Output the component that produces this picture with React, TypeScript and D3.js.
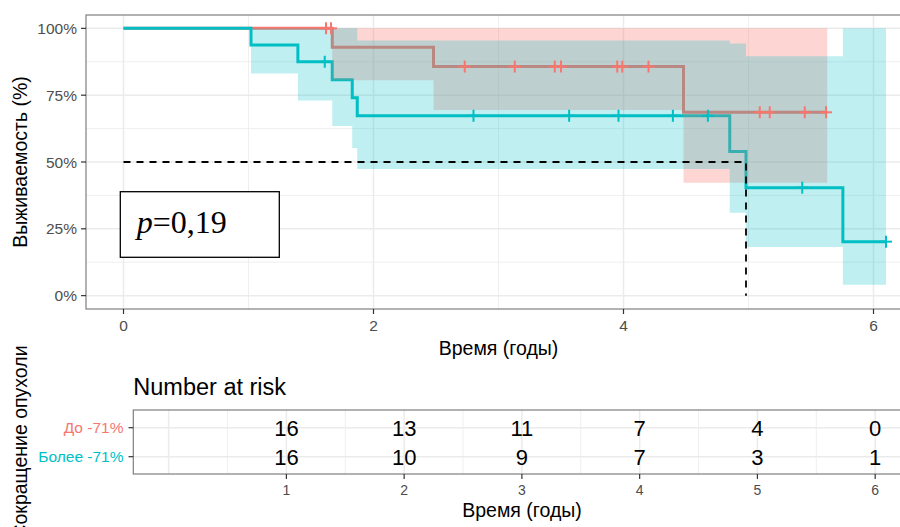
import React from "react";
import * as d3 from "d3";

// Group "До -71%" (red)
const redTime = [0, 1.67, 2.48, 4.48];
const redSurv = [1, 0.929, 0.857, 0.686];
const redUpper = [1, 1, 1, 1];
const redLower = [1, 0.806, 0.695, 0.422];
const redEnd = 5.63;
const redCensor = [1.62, 1.66, 2.73, 3.13, 3.45, 3.5, 3.95, 3.99, 4.2, 5.09, 5.17, 5.45, 5.62];

// Group "Более -71%" (teal)
const tealTime = [0, 1.02, 1.395, 1.67, 1.83, 1.87, 4.85, 4.98, 5.755];
const tealSurv = [1, 0.9375, 0.875, 0.808, 0.74, 0.673, 0.539, 0.404, 0.202];
const tealUpper = [1, 1, 1, 1, 1, 0.955, 0.943, 0.896, 1];
const tealLower = [1, 0.831, 0.73, 0.635, 0.552, 0.474, 0.31, 0.182, 0.041];
const tealEnd = 6.1;
const tealCensor = [1.61, 2.8, 3.565, 3.96, 4.395, 4.675, 5.43, 6.1];

const medianTime = 4.98;

const groups = ["До -71%", "Более -71%"];
const riskTimes = [1, 2, 3, 4, 5, 6];
const redRisk = [16, 13, 11, 7, 4, 0];
const tealRisk = [16, 10, 9, 7, 3, 1];

const xMajor = [0, 2, 4, 6];
const xMinor = [1, 3, 5];
const yMajor = [0, 0.25, 0.5, 0.75, 1];
const yMinor = [0.125, 0.375, 0.625, 0.875];

const RED = "#F8766D";
const TEAL = "#00BFC4";
const GRID = "#EBEBEB";
const BORDER = "#7F7F7F";
const TICKTXT = "#4D4D4D";
const FONT = "'Liberation Sans', Arial, sans-serif";

const W = 900;
const H = 527;

const stepAt = (times: number[], vals: number[], t: number) => {
  let v = vals[0];
  for (let i = 0; i < times.length; i++) if (times[i] <= t) v = vals[i];
  return v;
};

export default function App() {
  const x = d3.scaleLinear().domain([-0.3, 6.3]).range([86, 911]);
  const y = d3.scaleLinear().domain([-0.05, 1.05]).range([309, 15]);
  const xr = d3.scaleLinear().domain([-0.3, 6.3]).range([133.3, 910.5]);
  const yr = d3.scalePoint<string>().domain(groups).range([427.7, 456.7]);

  const line = d3
    .line<[number, number]>()
    .curve(d3.curveStepAfter)
    .x((d) => x(d[0]))
    .y((d) => y(d[1]));

  const area = d3
    .area<[number, number, number]>()
    .curve(d3.curveStepAfter)
    .x((d) => x(d[0]))
    .y0((d) => y(d[1]))
    .y1((d) => y(d[2]));

  const stepPts = (t: number[], s: number[], end: number) =>
    [...t.map((v, i) => [v, s[i]] as [number, number]), [end, s[s.length - 1]] as [number, number]];
  const bandPts = (t: number[], lo: number[], hi: number[], end: number) =>
    [
      ...t.map((v, i) => [v, lo[i], hi[i]] as [number, number, number]),
      [end, lo[lo.length - 1], hi[hi.length - 1]] as [number, number, number],
    ];

  const censorMark = (t: number, s: number, color: string, key: string) => (
    <g key={key} stroke={color} strokeWidth={2}>
      <line x1={x(t) - 6} x2={x(t) + 6} y1={y(s)} y2={y(s)} />
      <line x1={x(t)} x2={x(t)} y1={y(s) - 6} y2={y(s) + 6} />
    </g>
  );

  return (
    <svg width={W} height={H} style={{ position: "absolute", left: 0, top: 0, fontFamily: FONT }}>
      <rect width={W} height={H} fill="white" />

      {/* main panel grid */}
      {xMinor.map((t) => (
        <line key={`xm${t}`} x1={x(t)} x2={x(t)} y1={15} y2={309} stroke={GRID} strokeWidth={0.8} />
      ))}
      {yMinor.map((s) => (
        <line key={`ym${s}`} x1={86} x2={911} y1={y(s)} y2={y(s)} stroke={GRID} strokeWidth={0.8} />
      ))}
      {xMajor.map((t) => (
        <line key={`xg${t}`} x1={x(t)} x2={x(t)} y1={15} y2={309} stroke={GRID} strokeWidth={1.5} />
      ))}
      {yMajor.map((s) => (
        <line key={`yg${s}`} x1={86} x2={911} y1={y(s)} y2={y(s)} stroke={GRID} strokeWidth={1.5} />
      ))}

      {/* survival curves */}
      <path d={line(stepPts(redTime, redSurv, redEnd)) ?? ""} fill="none" stroke={RED} strokeWidth={3} />
      <path d={line(stepPts(tealTime, tealSurv, tealEnd)) ?? ""} fill="none" stroke={TEAL} strokeWidth={3} />

      {/* confidence bands */}
      <path d={area(bandPts(redTime, redLower, redUpper, redEnd)) ?? ""} fill={RED} fillOpacity={0.3} />
      <path d={area(bandPts(tealTime, tealLower, tealUpper, tealEnd)) ?? ""} fill={TEAL} fillOpacity={0.25} />

      {/* censor marks */}
      {redCensor.map((t, i) => censorMark(t, stepAt(redTime, redSurv, t), RED, `rc${i}`))}
      {tealCensor.map((t, i) => censorMark(t, stepAt(tealTime, tealSurv, t), TEAL, `tc${i}`))}

      {/* median line */}
      <path
        d={`M${x(0)},${y(0.5)}H${x(medianTime)}V${y(0)}`}
        fill="none"
        stroke="black"
        strokeWidth={1.8}
        strokeDasharray="7,6"
      />

      {/* p-value box */}
      <rect x={120.3} y={191.7} width={159} height={65.6} fill="white" stroke="black" strokeWidth={1.3} />
      <text x={136.7} y={232.7} fontFamily="'Liberation Serif', 'Times New Roman', serif" fontSize={32}>
        <tspan fontStyle="italic">p</tspan>=0,19
      </text>

      {/* main panel border and axes */}
      <rect x={86} y={15} width={825} height={294} fill="none" stroke={BORDER} strokeWidth={1.2} />
      {yMajor.map((s) => (
        <g key={`yt${s}`}>
          <line x1={81} x2={86} y1={y(s)} y2={y(s)} stroke="#333" strokeWidth={1.2} />
          <text x={77} y={y(s)} dy="0.36em" textAnchor="end" fontSize={15.5} fill={TICKTXT}>
            {`${s * 100}%`}
          </text>
        </g>
      ))}
      {xMajor.map((t) => (
        <g key={`xt${t}`}>
          <line x1={x(t)} x2={x(t)} y1={309} y2={314} stroke="#333" strokeWidth={1.2} />
          <text x={x(t)} y={331} textAnchor="middle" fontSize={15.5} fill={TICKTXT}>
            {t}
          </text>
        </g>
      ))}
      <text x={498.5} y={355} textAnchor="middle" fontSize={19.5}>
        Время (годы)
      </text>
      <text transform="translate(26.7,162) rotate(-90)" textAnchor="middle" fontSize={19.5}>
        Выживаемость (%)
      </text>

      {/* risk table */}
      <text x={133.3} y={395} fontSize={23.5}>
        Number at risk
      </text>
      {[0.5, 1.5, 2.5, 3.5, 4.5, 5.5].map((t) => (
        <line key={`rm${t}`} x1={xr(t)} x2={xr(t)} y1={410} y2={474} stroke={GRID} strokeWidth={0.8} />
      ))}
      {[0, ...riskTimes].map((t) => (
        <line key={`rg${t}`} x1={xr(t)} x2={xr(t)} y1={410} y2={474} stroke={GRID} strokeWidth={1.5} />
      ))}
      {groups.map((g) => (
        <line key={`rh${g}`} x1={133.3} x2={911} y1={yr(g)} y2={yr(g)} stroke={GRID} strokeWidth={1.5} />
      ))}
      <rect x={133.3} y={410} width={778} height={64} fill="none" stroke={BORDER} strokeWidth={1.2} />
      {riskTimes.map((t, i) => (
        <g key={`rv${t}`} fontSize={22} textAnchor="middle">
          <text x={xr(t)} y={yr(groups[0])} dy="0.36em">
            {redRisk[i]}
          </text>
          <text x={xr(t)} y={yr(groups[1])} dy="0.36em">
            {tealRisk[i]}
          </text>
          <line x1={xr(t)} x2={xr(t)} y1={474} y2={479} stroke="#333" strokeWidth={1.2} />
          <text x={xr(t)} y={495} fontSize={14} fill={TICKTXT}>
            {t}
          </text>
        </g>
      ))}
      {groups.map((g, i) => (
        <g key={`rl${g}`}>
          <line x1={128.5} x2={133.3} y1={yr(g)} y2={yr(g)} stroke="#333" strokeWidth={1.2} />
          <text x={123.5} y={yr(g)} dy="0.36em" textAnchor="end" fontSize={15.5} fill={i === 0 ? RED : TEAL}>
            {g}
          </text>
        </g>
      ))}
      <text x={522} y={517.3} textAnchor="middle" fontSize={19.5}>
        Время (годы)
      </text>
      <text transform="translate(26.7,442) rotate(-90)" textAnchor="middle" fontSize={19.5}>
        Сокращение опухоли
      </text>
    </svg>
  );
}
